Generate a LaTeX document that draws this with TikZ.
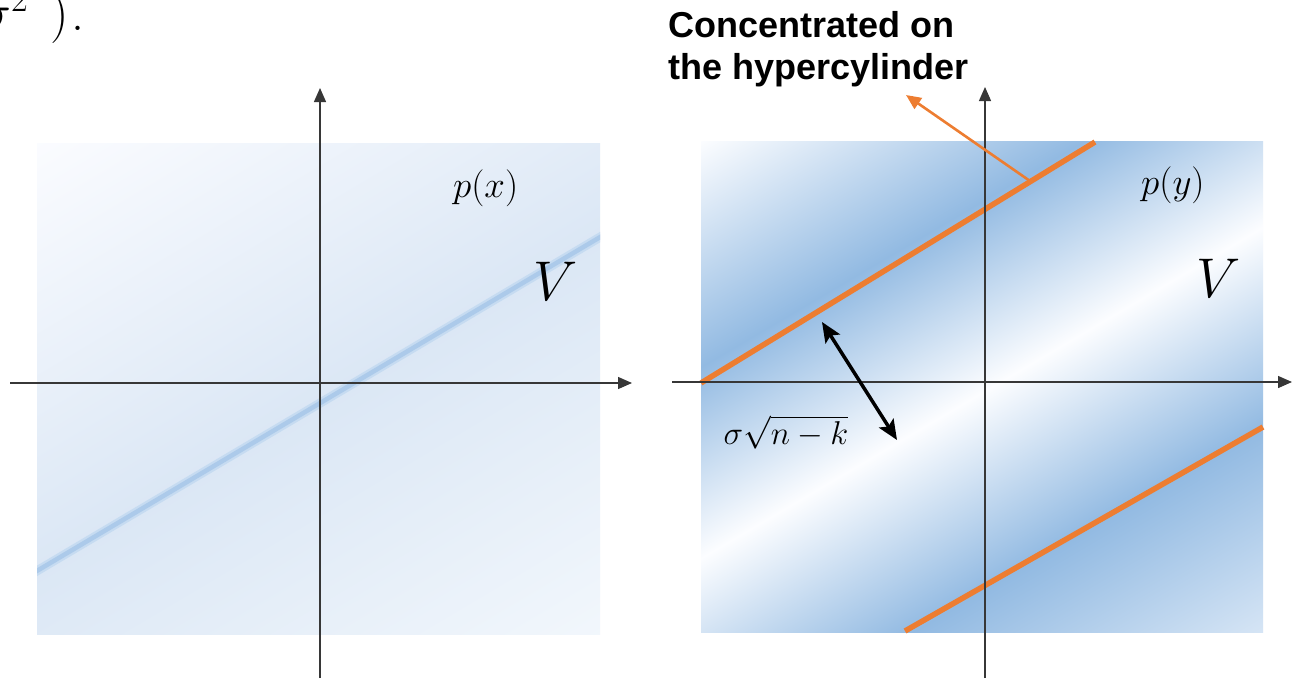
\RequirePackage{fix-cm}
\documentclass[tikz,border=0pt]{standalone}
\usepackage{fontspec}
\newfontfamily\labfont{Liberation Sans}
\usetikzlibrary{arrows.meta}
\definecolor{ored}{RGB}{237,125,49}
\definecolor{axisgray}{RGB}{55,55,55}
\definecolor{bdark}{RGB}{146,186,226}
\definecolor{bwhite}{RGB}{252,253,255}
\definecolor{blight}{RGB}{214,229,245}
\definecolor{lwhite}{RGB}{251,252,255}
\definecolor{lwhiteb}{RGB}{242,247,252}
\definecolor{lband}{RGB}{219,231,245}
\definecolor{lline}{RGB}{172,202,234}
\definecolor{lhalo}{RGB}{198,219,241}
\pgfdeclareverticalshading{rstripes}{100bp}{color(0bp)=(blight); color(25bp)=(blight); color(27.8bp)=(blight); color(39bp)=(bdark); color(49.7bp)=(bwhite); color(60bp)=(bdark); color(72.2bp)=(bwhite); color(75bp)=(bwhite); color(100bp)=(bwhite)}
\pgfdeclareverticalshading{lstripes}{100bp}{color(0bp)=(lwhiteb); color(27.5bp)=(lwhiteb); color(49.2bp)=(lband); color(72.5bp)=(lwhite); color(100bp)=(lwhite)}
\tikzset{
  axisline/.style={draw=axisgray, line width=1.3pt, -{Triangle[length=14pt,width=12pt]}},
  orangeline/.style={draw=ored, line width=5.5pt},
  callout/.style={draw=ored, line width=2.6pt, -{Triangle[length=15pt,width=13pt]}},
  dist/.style={draw=black, line width=3.5pt, {Stealth[length=20pt,width=17pt,inset=4pt]}-{Stealth[length=20pt,width=17pt,inset=4pt]}},
  mathlab/.style={inner sep=0pt, anchor=base west, font=\fontsize{37}{40}\selectfont},
  biglab/.style={inner sep=0pt, anchor=base west, font=\fontsize{56}{60}\selectfont},
  boldlab/.style={inner sep=0pt, anchor=base west, align=left, font=\labfont\bfseries\fontsize{36}{42}\selectfont}
}
\begin{document}
\begin{tikzpicture}[x=1pt,y=-1pt]
\useasboundingbox (0,0) rectangle (1292,678);
\fill[white] (0,0) rectangle (1292,678);
% left panel shading and subspace line
\begin{scope}
  \clip (37,143) rectangle (600,634);
  \begin{scope}[transform canvas={rotate around={30.7:(318.5,388.5)}}]
    \shade[shading=lstripes] (-481.5,-11.5) rectangle (1118.5,788.5);
  \end{scope}
  \coordinate (lA) at (30,575);
  \coordinate (lB) at (607,233);
  \draw[lhalo, line width=9pt] (lA) -- (lB);
  \draw[lline, line width=4.5pt] (lA) -- (lB);
\end{scope}
% right panel shading
\begin{scope}
  \clip (701,141) rectangle (1263,632);
  \begin{scope}[transform canvas={rotate around={30.5:(982,387)}}]
    \shade[shading=rstripes] (182,-13) rectangle (1782,787);
  \end{scope}
\end{scope}
% orange hypercylinder lines
\coordinate (oA) at (701,383);
\coordinate (oB) at (1095,142);
\coordinate (oC) at (905,631);
\coordinate (oD) at (1263,427);
\draw[orangeline] (oA) -- (oB);
\draw[orangeline] (oC) -- (oD);
% axes
\coordinate (lx0) at (10,383);
\coordinate (lx1) at (632,383);
\coordinate (ly0) at (320,678);
\coordinate (ly1) at (320,88);
\coordinate (rx0) at (672,382);
\coordinate (rx1) at (1292,382);
\coordinate (ry0) at (985,678);
\coordinate (ry1) at (985,87);
\draw[axisline] (lx0) -- (lx1);
\draw[axisline] (ly0) -- (ly1);
\draw[axisline] (rx0) -- (rx1);
\draw[axisline] (ry0) -- (ry1);
% callout
\node[boldlab] (conc) at (668,79) {Concentrated on\\the hypercylinder};
\coordinate (cT) at (1030,181);
\coordinate (cH) at (906,95);
\draw[callout] (cT) -- (cH);
% distance arrow
\coordinate (dA) at (822,322);
\coordinate (dB) at (897,440);
\draw[dist] (dA) -- (dB);
% labels
\node[mathlab] (px) at (453,197) {$p(x)$};
\node[mathlab] (py) at (1141,194) {$p(y)$};
\node[biglab] (vl) at (533,300) {$V$};
\node[biglab] (vr) at (1196,297) {$V$};
\node[inner sep=0pt, anchor=base, font=\fontsize{33}{36}\selectfont] (sig) at (786,444) {$\sigma\sqrt{n-k}$};
\node[inner sep=0pt, anchor=base west, font=\fontsize{52}{56}\selectfont] (frag) at (-20,30) {$\sigma^2\hspace{22pt})$\kern3pt.};
\end{tikzpicture}
\end{document}
